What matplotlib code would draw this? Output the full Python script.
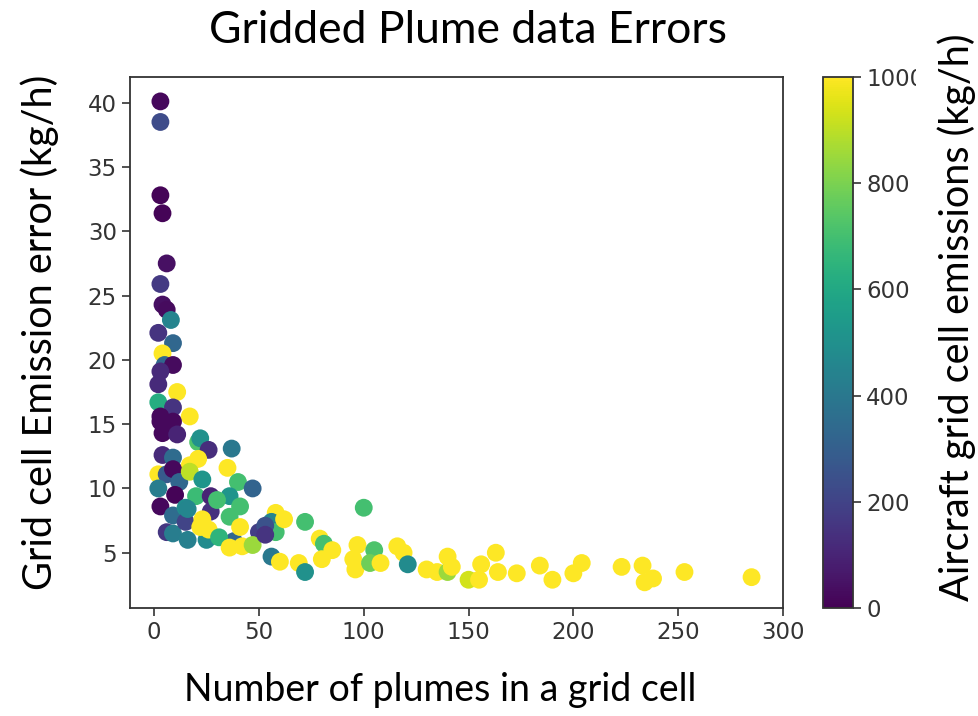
import matplotlib
matplotlib.use("Agg")
import numpy as np
import matplotlib.pyplot as plt

# plume counts per grid cell, emission error, aircraft emissions
n_plumes = [3, 3, 3, 4, 6, 3, 4, 6, 8, 2,
            9, 4, 5, 9, 3, 2, 11, 2, 9, 17,
            3, 3, 9, 4, 11, 21, 22, 26, 37, 4,
            9, 17, 21, 35, 2, 6, 9, 12, 17, 23,
            40, 2, 10, 20, 27, 36, 3, 9, 15, 27,
            36, 6, 9, 15, 16, 25, 22, 38, 47, 41,
            58, 50, 56, 58, 62, 72, 23, 26, 41, 31,
            36, 42, 47, 56, 60, 69, 72, 79, 81, 85,
            80, 100, 97, 95, 96, 105, 103, 108, 116, 119,
            121, 130, 135, 140, 140, 142, 150, 156, 155, 163,
            164, 173, 184, 190, 200, 204, 223, 233, 234, 238,
            253, 285, 53, 30, 16, 53]
emission_error = [40.1, 38.5, 32.8, 31.4, 27.5, 25.9, 24.3, 23.9, 23.1, 22.1,
                  21.3, 20.5, 19.6, 19.6, 19.1, 18.1, 17.5, 16.7, 16.3, 15.6,
                  15.6, 15.2, 15.2, 14.3, 14.2, 13.6, 13.9, 13.0, 13.1, 12.6,
                  12.4, 11.8, 12.3, 11.6, 11.1, 11.1, 11.5, 10.5, 11.3, 10.7,
                  10.5, 10.0, 9.5, 9.4, 9.4, 9.4, 8.6, 7.9, 8.5, 8.2,
                  7.8, 6.6, 6.5, 7.4, 6.0, 6.0, 7.0, 5.9, 10.0, 8.6,
                  8.1, 6.6, 7.4, 6.6, 7.6, 7.4, 7.6, 6.8, 7.0, 6.2,
                  5.4, 5.5, 5.6, 4.7, 4.3, 4.2, 3.5, 6.1, 5.7, 5.2,
                  4.5, 8.5, 5.6, 4.5, 3.7, 5.2, 4.2, 4.2, 5.5, 5.0,
                  4.1, 3.7, 3.5, 4.7, 3.5, 3.9, 2.9, 4.1, 2.9, 5.0,
                  3.5, 3.4, 4.0, 2.9, 3.4, 4.2, 3.9, 4.0, 2.7, 3.0,
                  3.5, 3.1, 7.1, 9.1, 8.4, 6.4]
aircraft_emis = [20, 230, 10, 10, 40, 170, 40, 30, 450, 150,
                 330, 1000, 330, 30, 120, 120, 1000, 620, 150, 1000,
                 20, 20, 20, 20, 100, 720, 500, 130, 400, 120,
                 350, 1000, 1000, 1000, 1000, 280, 20, 330, 900, 520,
                 700, 420, 10, 680, 100, 520, 20, 350, 480, 140,
                 700, 160, 420, 200, 430, 480, 1000, 330, 320, 700,
                 1000, 180, 450, 700, 1000, 700, 1000, 1000, 1000, 650,
                 1000, 1000, 850, 400, 1000, 1000, 500, 1000, 700, 1000,
                 1000, 700, 1000, 1000, 1000, 720, 780, 1000, 1000, 1000,
                 480, 1000, 1000, 1000, 850, 1000, 930, 1000, 1000, 1000,
                 1000, 1000, 1000, 1000, 1000, 1000, 1000, 1000, 1000, 1000,
                 1000, 1000, 250, 700, 460, 150]

x_ticks = [0, 50, 100, 150, 200, 250, 300]
y_ticks = [5, 10, 15, 20, 25, 30, 35, 40]
cbar_ticks = [0, 200, 400, 600, 800, 1000]

label_font = "Lato"
ink = "#333333"

fig = plt.figure(figsize=(9.79, 7.16), dpi=100)
ax = fig.add_axes([0.1328, 0.1508, 0.667, 0.7417])
cax = fig.add_axes([0.8407, 0.1508, 0.0306, 0.7417])

sc = ax.scatter(n_plumes, emission_error, c=aircraft_emis, cmap="viridis",
                vmin=0, vmax=1000, s=165, linewidths=0)

ax.set_xlim(-11.5, 300)
ax.set_ylim(0.7, 42.0)
ax.set_xticks(x_ticks)
ax.set_yticks(y_ticks)
ax.tick_params(labelsize=16.5, length=6, width=1.2, colors=ink, labelcolor=ink)
for sp in ax.spines.values():
    sp.set_color(ink)
    sp.set_linewidth(1.3)

cb = fig.colorbar(sc, cax=cax, ticks=cbar_ticks)
cb.ax.tick_params(labelsize=16.5, length=6, width=1.2, colors=ink, labelcolor=ink)
cb.outline.set_edgecolor(ink)
cb.outline.set_linewidth(1.3)

fig.text(0.478, 0.957, "Gridded Plume data Errors", ha="center", va="center",
         fontsize=32, family=label_font)
fig.text(0.450, 0.036, "Number of plumes in a grid cell", ha="center", va="center",
         fontsize=27, family=label_font)
fig.text(0.041, 0.536, "Grid cell Emission error (kg/h)", ha="center", va="center",
         rotation=90, fontsize=28.5, family=label_font)
# white box behind the colorbar label hides the end of the top tick label
fig.text(0.977, 0.557, "Aircraft grid cell emissions (kg/h)", ha="center", va="center",
         rotation=90, fontsize=28.5, family=label_font,
         bbox=dict(facecolor="white", edgecolor="none", pad=15))

fig.savefig("out.png", dpi=100)
